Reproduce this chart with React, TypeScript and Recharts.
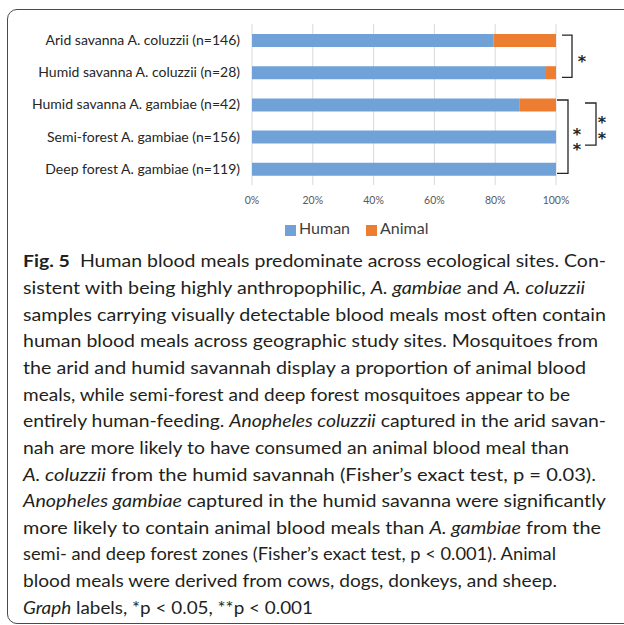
import { BarChart, Bar, XAxis, YAxis, CartesianGrid, Legend } from "recharts";

const categories = [
  "Arid savanna A. coluzzii (n=146)",
  "Humid savanna A. coluzzii (n=28)",
  "Humid savanna A. gambiae (n=42)",
  "Semi-forest A. gambiae (n=156)",
  "Deep forest A. gambiae (n=119)",
];
const humanPct = [79.5, 96.4, 88.1, 100, 100];
const animalPct = [20.5, 3.6, 11.9, 0, 0];
const xTicks = [0, 20, 40, 60, 80, 100];

const COLORS = { Human: "#70A1D7", Animal: "#ED7D31" };

// caption text, one entry per printed line: [text, style]
const captionLines: [string, string][][] = [
  [["Fig. 5", "b"], ["  Human blood meals predominate across ecological sites. Con-", ""]],
  [["sistent with being highly anthropophilic, ", ""], ["A. gambiae", "i"], [" and ", ""], ["A. coluzzii", "i"]],
  [["samples carrying visually detectable blood meals most often contain", ""]],
  [["human blood meals across geographic study sites. Mosquitoes from", ""]],
  [["the arid and humid savannah display a proportion of animal blood", ""]],
  [["meals, while semi-forest and deep forest mosquitoes appear to be", ""]],
  [["entirely human-feeding. ", ""], ["Anopheles coluzzii", "i"], [" captured in the arid savan-", ""]],
  [["nah are more likely to have consumed an animal blood meal than", ""]],
  [["A. coluzzii", "i"], [" from the humid savannah (Fisher\u2019s exact test, p = 0.03).", ""]],
  [["Anopheles gambiae", "i"], [" captured in the humid savanna were significantly", ""]],
  [["more likely to contain animal blood meals than ", ""], ["A. gambiae", "i"], [" from the", ""]],
  [["semi- and deep forest zones (Fisher\u2019s exact test, p < 0.001). Animal", ""]],
  [["blood meals were derived from cows, dogs, donkeys, and sheep.", ""]],
  [["Graph", "i"], [" labels, *p < 0.05, **p < 0.001", ""]],
];
const captionEnds = [606, 585, 606, 598, 586, 570, 606, 569, 596, 606, 601, 556, 557, 313];

// chart geometry
const W = 624;
const H = 245;
const M = { top: 24, right: 68, left: 0, bottom: 30 };
const Y_AXIS_W = 252;
const X_AXIS_H = 30;
const plotTop = M.top;
const plotBottom = H - M.bottom - X_AXIS_H;
const plotRight = W - M.right;
const band = (plotBottom - plotTop) / categories.length;
const catY = (i: number) => plotTop + band * (i + 0.5);

function LegendBox() {
  return (
    <div style={{ display: "flex", fontFamily: "Lato", fontSize: 16, lineHeight: "18px", color: "#404040" }}>
      {["Human", "Animal"].map((k) => (
        <div key={k} style={{ display: "flex", marginRight: 16 }}>
          <span style={{ width: 11, height: 11, marginTop: 6, marginRight: 3, background: (COLORS as any)[k] }} />
          <span>{k}</span>
        </div>
      ))}
    </div>
  );
}

function Bracket({ x1, x2, y1, y2 }: any) {
  return (
    <path
      d={`M${x1},${y1} H${x2} V${y2} H${x1}`}
      fill="none"
      stroke="#262626"
      strokeWidth={1.3}
    />
  );
}

const starFont = { fontFamily: "DejaVu Sans", fontSize: 16, fontWeight: 700, fill: "#262626" } as any;

// one asterisk centred on (x, y)
function Star({ x, y }: any) {
  return (
    <text x={x} y={y + 9.6} textAnchor="middle" style={starFont}>
      *
    </text>
  );
}

// two asterisks stacked vertically, written as one vertical text
function DoubleStar({ x, y, gap }: any) {
  return (
    <text
      x={x}
      y={y}
      style={{ ...starFont, writingMode: "vertical-rl", textOrientation: "upright", letterSpacing: gap - 16 }}
    >
      **
    </text>
  );
}

export default function App() {
  const data = categories.map((c, i) => ({ name: c, Human: humanPct[i], Animal: animalPct[i] }));

  return (
    <div style={{ position: "absolute", left: 0, top: 0, width: 624, height: 625, overflow: "hidden", background: "#fff" }}>
      <div
        style={{
          position: "absolute",
          left: 7,
          top: 9,
          width: 700,
          height: 613,
          border: "1.3px solid #4a4a4a",
          borderRadius: 10,
        }}
      />
      <div style={{ position: "absolute", left: 0, top: 0 }}>
        <BarChart width={W} height={H} data={data} layout="vertical" margin={M}>
          <CartesianGrid horizontal={false} stroke="#d9d9d9" />
          <XAxis
            type="number"
            domain={[0, 100]}
            ticks={xTicks}
            tickFormatter={(v) => v + "%"}
            axisLine={false}
            tickLine={false}
            tickSize={0}
            tickMargin={12}
            height={X_AXIS_H}
            tick={{ fontFamily: "Lato", fontSize: 10.5, fill: "#595959" }}
          />
          <YAxis
            type="category"
            dataKey="name"
            width={Y_AXIS_W}
            axisLine={false}
            tickLine={false}
            tickSize={0}
            tickMargin={12}
            interval={0}
            tick={{ fontFamily: "Lato", fontSize: 14, fill: "#262626" }}
          />
          <Bar dataKey="Human" stackId="a" fill={COLORS.Human} barSize={13} isAnimationActive={false} />
          <Bar dataKey="Animal" stackId="a" fill={COLORS.Animal} barSize={13} isAnimationActive={false} />
          <Legend
            layout="horizontal"
            verticalAlign="middle"
            align="center"
            wrapperStyle={{ top: 219, left: 285, width: 200 }}
            content={() => <LegendBox />}
          />
        </BarChart>
      </div>
      <svg width={624} height={625} style={{ position: "absolute", left: 0, top: 0 }}>
        {/* significance brackets */}
        <Bracket x1={plotRight + 6} x2={plotRight + 16} y1={catY(0) - 5} y2={catY(1) + 5} />
        <Star x={plotRight + 26} y={(catY(0) + catY(1)) / 2 + 1} />

        <Bracket x1={plotRight + 1} x2={plotRight + 12} y1={catY(2) - 4.5} y2={catY(4) + 4.5} />
        <DoubleStar x={plotRight + 21} y={catY(3) - 12} gap={12.5} />

        <Bracket x1={plotRight + 29} x2={plotRight + 40} y1={catY(2) - 1.5} y2={catY(3) + 8.5} />
        <DoubleStar x={plotRight + 46} y={catY(2) + 8.5} gap={13} />

        {/* caption */}
        {captionLines.map((line, i) => (
          <text
            key={i}
            x={23}
            y={267.3 + i * 26.65}
            textLength={captionEnds[i] - 23}
            lengthAdjust="spacingAndGlyphs"
            style={{ fontFamily: "Lato", fontSize: 17.5, fill: "#231f20", whiteSpace: "pre" }}
          >
            {line.map(([t, s], j) => (
              <tspan key={j} fontWeight={s === "b" ? 700 : 400} fontStyle={s === "i" ? "italic" : "normal"}>
                {t}
              </tspan>
            ))}
          </text>
        ))}
      </svg>
    </div>
  );
}
